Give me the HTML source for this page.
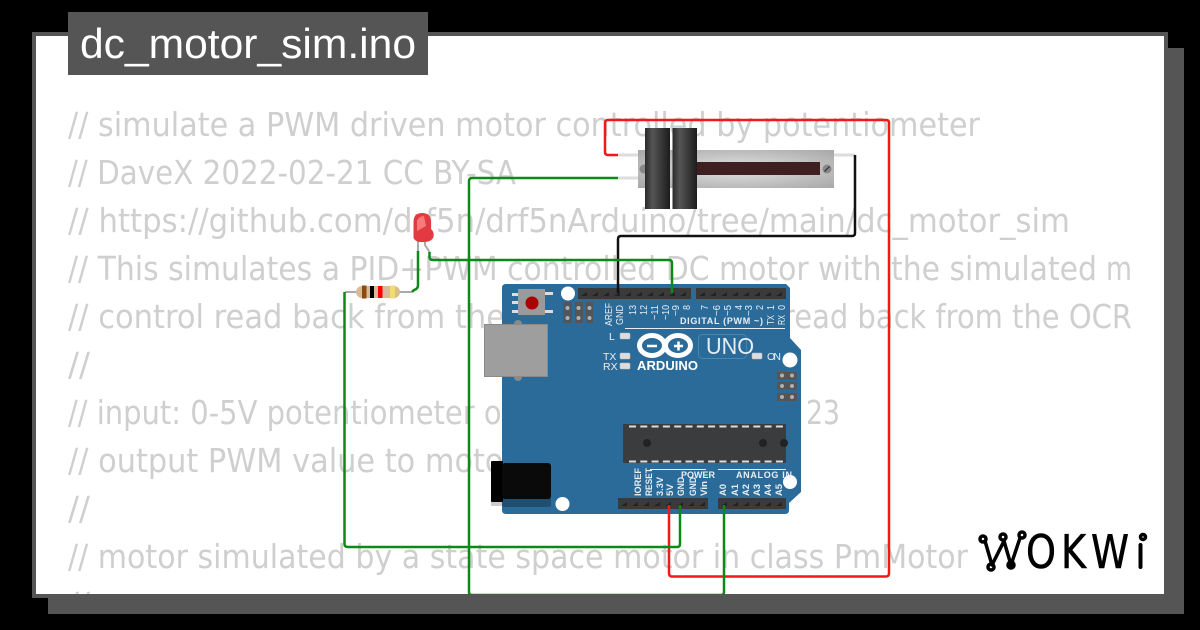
<!DOCTYPE html>
<html><head><meta charset="utf-8"><style>
html,body{margin:0;padding:0;background:#000;width:1200px;height:630px;overflow:hidden}
svg{display:block}
</style></head><body>
<svg width="1200" height="630" viewBox="0 0 1200 630" xmlns="http://www.w3.org/2000/svg" font-family="'Liberation Sans',sans-serif">
<defs>
<linearGradient id="h1" x1="0" x2="1" y1="0" y2="0"><stop offset="0" stop-color="#2a2a2a"/><stop offset=".3" stop-color="#555"/><stop offset="1" stop-color="#1c1c1c"/></linearGradient>
<radialGradient id="pot" cx=".5" cy=".5" r=".7"><stop offset="0" stop-color="#e2e2e2"/><stop offset="1" stop-color="#a8a8a8"/></radialGradient>
<clipPath id="c"><rect x="36" y="36" width="1096" height="558"/></clipPath>
<clipPath id="f"><rect x="0" y="0" width="1200" height="594"/></clipPath>
</defs>
<rect x="48" y="48" width="1136" height="566" fill="#555"/>
<rect x="32" y="32" width="1136" height="566" fill="#555"/>
<rect x="36" y="36" width="1128" height="558" fill="#fff"/>
<g clip-path="url(#c)" fill="#cfcfcf" font-size="33" font-family="'DejaVu Sans',sans-serif">
<text x="68" y="136" textLength="912" lengthAdjust="spacingAndGlyphs">// simulate a PWM driven motor controlled by potentiometer</text>
<text x="68" y="184" textLength="448" lengthAdjust="spacingAndGlyphs">// DaveX 2022-02-21 CC BY-SA</text>
<text x="68" y="232" textLength="1002" lengthAdjust="spacingAndGlyphs">// https://github.com/drf5n/drf5nArduino/tree/main/dc_motor_sim</text>
<text x="68" y="280" textLength="1029" lengthAdjust="spacingAndGlyphs">// This simulates a PID+PWM controlled DC motor with the simulated</text>
<text x="1106" y="280" textLength="80" lengthAdjust="spacingAndGlyphs">motor</text>
<text x="68" y="328" textLength="437" lengthAdjust="spacingAndGlyphs">// control read back from the</text>
<text x="783" y="328" textLength="349" lengthAdjust="spacingAndGlyphs">read back from the OCR</text>
<text x="68" y="376" textLength="22" lengthAdjust="spacingAndGlyphs">//</text>
<text x="68" y="424" textLength="452" lengthAdjust="spacingAndGlyphs">// input: 0-5V potentiometer on</text>
<text x="806" y="424" textLength="34" lengthAdjust="spacingAndGlyphs">23</text>
<text x="68" y="472" textLength="448" lengthAdjust="spacingAndGlyphs">// output PWM value to motor</text>
<text x="68" y="520" textLength="22" lengthAdjust="spacingAndGlyphs">//</text>
<text x="68" y="568" textLength="900" lengthAdjust="spacingAndGlyphs">// motor simulated by a state space motor in class PmMotor</text>
<text x="68" y="616" textLength="22" lengthAdjust="spacingAndGlyphs">//</text>
</g>
<rect x="68" y="12" width="360" height="63" fill="#555"/>
<text x="80" y="58" fill="#fff" font-size="42" textLength="336" lengthAdjust="spacingAndGlyphs">dc_motor_sim.ino</text>

<!-- Arduino board -->
<path d="M502 288Q502 284 506 284H786L790 288V338L801 350V492L789 503V510Q789 514 785 514H506Q502 514 502 510Z" fill="#2b6b99"/>
<rect x="491" y="500" width="11" height="6" fill="#ccc"/>
<rect x="502" y="497" width="49" height="10" rx="2" fill="#1f4e70"/>
<circle cx="518" cy="377" r="4" fill="#8a8a8a"/><circle cx="518" cy="324" r="4" fill="#8a8a8a"/>
<rect x="484.500" y="324.500" width="63" height="52" fill="#9e9e9e" stroke="#8a8a8a"/>
<rect x="512" y="293" width="6" height="3" fill="#ddd"/><rect x="512" y="301" width="6" height="3" fill="#ddd"/><rect x="512" y="310" width="6" height="3" fill="#ddd"/>
<rect x="545" y="292" width="8" height="3" fill="#ddd"/><rect x="545" y="310" width="8" height="3" fill="#ddd"/>
<rect x="518" y="289" width="27" height="26" fill="#9a9a9a"/>
<circle cx="532" cy="303" r="6.500" fill="#a00"/>
<!-- holes -->
<g fill="#fff"><circle cx="568" cy="293.500" r="7"/><circle cx="790" cy="360" r="7.500"/><circle cx="790" cy="482" r="7"/><circle cx="562.500" cy="504" r="7"/></g>
<!-- headers -->
<g fill="#3a3a3a"><rect x="578" y="288" width="113" height="11"/><rect x="696" y="288" width="90" height="11"/><rect x="618" y="498" width="90" height="11"/><rect x="718" y="498" width="68" height="11"/></g>
<g fill="#222">
<path d="M581 296h6v-4zM592 296h6v-4zM603 296h6v-4zM614 296h6v-4zM625 296h6v-4zM636 296h6v-4zM647 296h6v-4zM658 296h6v-4zM669 296h6v-4zM680 296h6v-4zM699 296h6v-4zM710 296h6v-4zM721 296h6v-4zM732 296h6v-4zM743 296h6v-4zM754 296h6v-4zM765 296h6v-4zM776 296h6v-4z"/>
<path d="M621 506h6v-4zM632 506h6v-4zM643 506h6v-4zM654 506h6v-4zM665 506h6v-4zM677 506h6v-4zM688 506h6v-4zM699 506h6v-4zM721 506h6v-4zM732 506h6v-4zM743 506h6v-4zM754 506h6v-4zM765 506h6v-4zM776 506h6v-4z"/>
</g>
<!-- ICSP -->
<g fill="#555"><rect x="563" y="302" width="9" height="21"/><rect x="575" y="302" width="8" height="21"/><rect x="586" y="302" width="7" height="21"/><rect x="777" y="372" width="20" height="7.500"/><rect x="777" y="382" width="20" height="7.500"/><rect x="777" y="393" width="20" height="8"/></g>
<g fill="#b0b0b0"><circle cx="567.500" cy="308" r="2"/><circle cx="567.500" cy="318" r="2"/><circle cx="578.500" cy="308" r="2"/><circle cx="578.500" cy="318" r="2"/><circle cx="589.500" cy="308" r="2"/><circle cx="589.500" cy="318" r="2"/><circle cx="782" cy="375.500" r="2"/><circle cx="792" cy="375.500" r="2"/><circle cx="782" cy="386" r="2"/><circle cx="792" cy="386" r="2"/><circle cx="782" cy="397" r="2"/><circle cx="792" cy="397" r="2"/></g>
<!-- chip -->
<rect x="623" y="424" width="163" height="39" rx="1" fill="#3a3c3e"/>
<path d="M629 426.500H785M629 461.500H785" stroke="#ddd" stroke-width="2" stroke-dasharray="7 4.300" fill="none"/>
<circle cx="647" cy="443" r="4" fill="#222"/><circle cx="763" cy="443" r="4" fill="#222"/><circle cx="784" cy="443" r="4" fill="#222"/>
<!-- power jack -->
<rect x="491" y="461" width="12" height="41" rx="1" fill="#000"/>
<rect x="502" y="463" width="49" height="36" rx="3" fill="#0a0a0a"/>
<!-- labels -->
<g fill="#e8eef3" font-size="10.500">
<text lengthAdjust="spacingAndGlyphs" textLength="23" transform="translate(612,326) rotate(-90)">AREF</text>
<text lengthAdjust="spacingAndGlyphs" textLength="20" transform="translate(623,325) rotate(-90)">GND</text>
<text lengthAdjust="spacingAndGlyphs" textLength="10" transform="translate(636,315) rotate(-90)">13</text>
<text lengthAdjust="spacingAndGlyphs" textLength="10" transform="translate(647,315) rotate(-90)">12</text>
<text lengthAdjust="spacingAndGlyphs" textLength="15" transform="translate(658,320) rotate(-90)">~11</text>
<text lengthAdjust="spacingAndGlyphs" textLength="15" transform="translate(669,320) rotate(-90)">~10</text>
<text lengthAdjust="spacingAndGlyphs" textLength="11" transform="translate(679,316) rotate(-90)">~9</text>
<text lengthAdjust="spacingAndGlyphs" textLength="5" transform="translate(690,310) rotate(-90)">8</text>
<text lengthAdjust="spacingAndGlyphs" textLength="5" transform="translate(708,310) rotate(-90)">7</text>
<text lengthAdjust="spacingAndGlyphs" textLength="11" transform="translate(720,316) rotate(-90)">~6</text>
<text lengthAdjust="spacingAndGlyphs" textLength="11" transform="translate(731,316) rotate(-90)">~5</text>
<text lengthAdjust="spacingAndGlyphs" textLength="5" transform="translate(742,310) rotate(-90)">4</text>
<text lengthAdjust="spacingAndGlyphs" textLength="11" transform="translate(752,316) rotate(-90)">~3</text>
<text lengthAdjust="spacingAndGlyphs" textLength="5" transform="translate(763,310) rotate(-90)">2</text>
<text lengthAdjust="spacingAndGlyphs" textLength="10" transform="translate(774,325) rotate(-90)">TX</text>
<text lengthAdjust="spacingAndGlyphs" textLength="5" transform="translate(774,310) rotate(-90)">1</text>
<text lengthAdjust="spacingAndGlyphs" textLength="10" transform="translate(785,325) rotate(-90)">RX</text>
<text lengthAdjust="spacingAndGlyphs" textLength="5" transform="translate(785,310) rotate(-90)">0</text>
<g font-weight="bold" font-size="9.500">
<text lengthAdjust="spacingAndGlyphs" textLength="28" transform="translate(641,496) rotate(-90)">IOREF</text>
<text lengthAdjust="spacingAndGlyphs" textLength="28" transform="translate(652,496) rotate(-90)">RESET</text>
<text lengthAdjust="spacingAndGlyphs" textLength="19" transform="translate(663,496) rotate(-90)">3.3V</text>
<text lengthAdjust="spacingAndGlyphs" textLength="12" transform="translate(673,496) rotate(-90)">5V</text>
<text lengthAdjust="spacingAndGlyphs" textLength="19" transform="translate(684,496) rotate(-90)">GND</text>
<text lengthAdjust="spacingAndGlyphs" textLength="19" transform="translate(696,496) rotate(-90)">GND</text>
<text lengthAdjust="spacingAndGlyphs" textLength="15" transform="translate(707,496) rotate(-90)">Vin</text>
<text lengthAdjust="spacingAndGlyphs" textLength="12" transform="translate(726,496) rotate(-90)">A0</text>
<text lengthAdjust="spacingAndGlyphs" textLength="12" transform="translate(738,496) rotate(-90)">A1</text>
<text lengthAdjust="spacingAndGlyphs" textLength="12" transform="translate(749,496) rotate(-90)">A2</text>
<text lengthAdjust="spacingAndGlyphs" textLength="12" transform="translate(760,496) rotate(-90)">A3</text>
<text lengthAdjust="spacingAndGlyphs" textLength="12" transform="translate(771,496) rotate(-90)">A4</text>
<text lengthAdjust="spacingAndGlyphs" textLength="12" transform="translate(782,496) rotate(-90)">A5</text>
</g>
<text x="680" y="324" font-weight="bold" font-size="9" textLength="83">DIGITAL (PWM ~)</text>
<text x="681" y="478" font-weight="bold" font-size="9" textLength="34">POWER</text>
<text x="736" y="478" font-weight="bold" font-size="9" textLength="56">ANALOG IN</text>
<text x="609" y="340">L</text>
<text x="603" y="360">TX</text>
<text x="603" y="370">RX</text>
<text x="767" y="360" textLength="14">ON</text>
</g>
<path d="M625 328.500H785M650 469.500H706M718 469.500H786" stroke="#e8eef3" stroke-width="1" fill="none"/>
<g fill="#ddd" stroke="#bbb" stroke-width=".5"><rect x="620" y="333" width="10" height="6" rx="1"/><rect x="620" y="353" width="10" height="6" rx="1"/><rect x="620" y="363" width="10" height="6" rx="1"/><rect x="752" y="353" width="10" height="6" rx="1"/></g>
<!-- logo -->
<g fill="none" stroke="#fff" stroke-width="5"><ellipse cx="652" cy="345.500" rx="12.500" ry="10"/><ellipse cx="678" cy="345.500" rx="12.500" ry="10"/></g>
<path d="M647 346h10M674 346h9M678.500 341.500v9" stroke="#fff" stroke-width="2.500"/>
<text x="637" y="370" fill="#fff" font-size="13" font-weight="bold" textLength="61">ARDUINO</text>
<rect x="698.500" y="334.500" width="48" height="24" rx="4" fill="none" stroke="#4d86ad"/>
<text x="706" y="354" fill="#e8eef3" font-size="23" textLength="48" lengthAdjust="spacingAndGlyphs">UNO</text>

<!-- slide pot -->
<rect x="618" y="153.500" width="20" height="3" fill="#ddd"/><rect x="618" y="176.500" width="20" height="3" fill="#ddd"/><rect x="834" y="153.500" width="21" height="3" fill="#ddd"/>
<rect x="638" y="150" width="196" height="38" fill="url(#pot)"/>
<rect x="697" y="162" width="123" height="13" fill="#3f1f1f"/>
<circle cx="827" cy="169" r="4.500" fill="#888"/><path d="M824.500 171.500l5-5" stroke="#222"/>
<circle cx="644" cy="169" r="4.500" fill="#888"/>
<rect x="645" y="128" width="25" height="81" fill="url(#h1)"/>
<rect x="672.500" y="128" width="24.500" height="81" fill="url(#h1)"/>

<!-- resistor + LED -->
<path d="M345 292H412" stroke="#aaa" stroke-width="2"/>
<rect x="356" y="286" width="44" height="12" rx="6" fill="#d9bb96"/>
<rect x="362" y="285.500" width="4.500" height="13" fill="#8b4b12"/><rect x="370" y="286" width="4" height="12" fill="#000"/><rect x="378" y="286" width="4.500" height="12" fill="#f00"/><rect x="390" y="285.500" width="5" height="13" fill="#f0dc70"/>
<path d="M418 241V251M425 241V245L429.500 252" stroke="#aaa" stroke-width="2" fill="none"/>
<path d="M413.500 238V222Q413.500 213 422 213Q431 213 431 222V229Q434.500 232 433.500 237Q431.500 242 424 242Q416 243 413.500 238Z" fill="#e23a40"/>
<path d="M417 231V221Q419 216 424 216L426 226Z" fill="#f88" opacity=".8"/>

<!-- wires -->
<g fill="none" stroke-width="2.500" stroke-linejoin="round" clip-path="url(#f)">
<path d="M669 505V573Q669 576.500 672 576.500H886Q889 576.500 889 573V123Q889 120 886 120H608Q605 120 605 123V152Q605 155 608 155H618" stroke="#f01818"/>
<path d="M724 505V592Q724 595 721 595H472Q469 595 469 592V181Q469 178 472 178H618" stroke="#0b8a17"/>
<path d="M855 155V233Q855 236 852 236H621Q618 236 618 239V293" stroke="#111"/>
<path d="M429.500 252V257Q429.500 260 433 260H669Q672 260 672 263V293" stroke="#0b8a17"/>
<path d="M418 251V285Q418 289 414 290L412 292" stroke="#0b8a17"/>
<path d="M344.500 292V544Q344.500 547 348 547H677Q680 547 680 544V505" stroke="#0b8a17"/>
</g>

<!-- wokwi -->
<g fill="none" stroke="#000" stroke-width="3.500" stroke-linecap="round" stroke-linejoin="round">
<path d="M985 541L992 565L1004 541L1011 565L1020 538"/>
<circle cx="983" cy="539" r="3"/><circle cx="1003" cy="537" r="3"/><circle cx="1022" cy="535" r="3"/><circle cx="991" cy="567" r="3"/><circle cx="1011" cy="565" r="3"/>
<circle cx="1143" cy="537" r="2.500"/>
</g>
<g fill="#000" stroke="#000" stroke-width=".6" font-family="'DejaVu Sans',sans-serif" font-size="46">
<text x="1026" y="568" textLength="30" lengthAdjust="spacingAndGlyphs">O</text>
<text x="1061" y="568" textLength="25" lengthAdjust="spacingAndGlyphs">K</text>
<text x="1091" y="568" textLength="38" lengthAdjust="spacingAndGlyphs">W</text>
</g>
<path d="M1140.500 545V567" stroke="#000" stroke-width="4" stroke-linecap="round"/>
</svg>
</body></html>
